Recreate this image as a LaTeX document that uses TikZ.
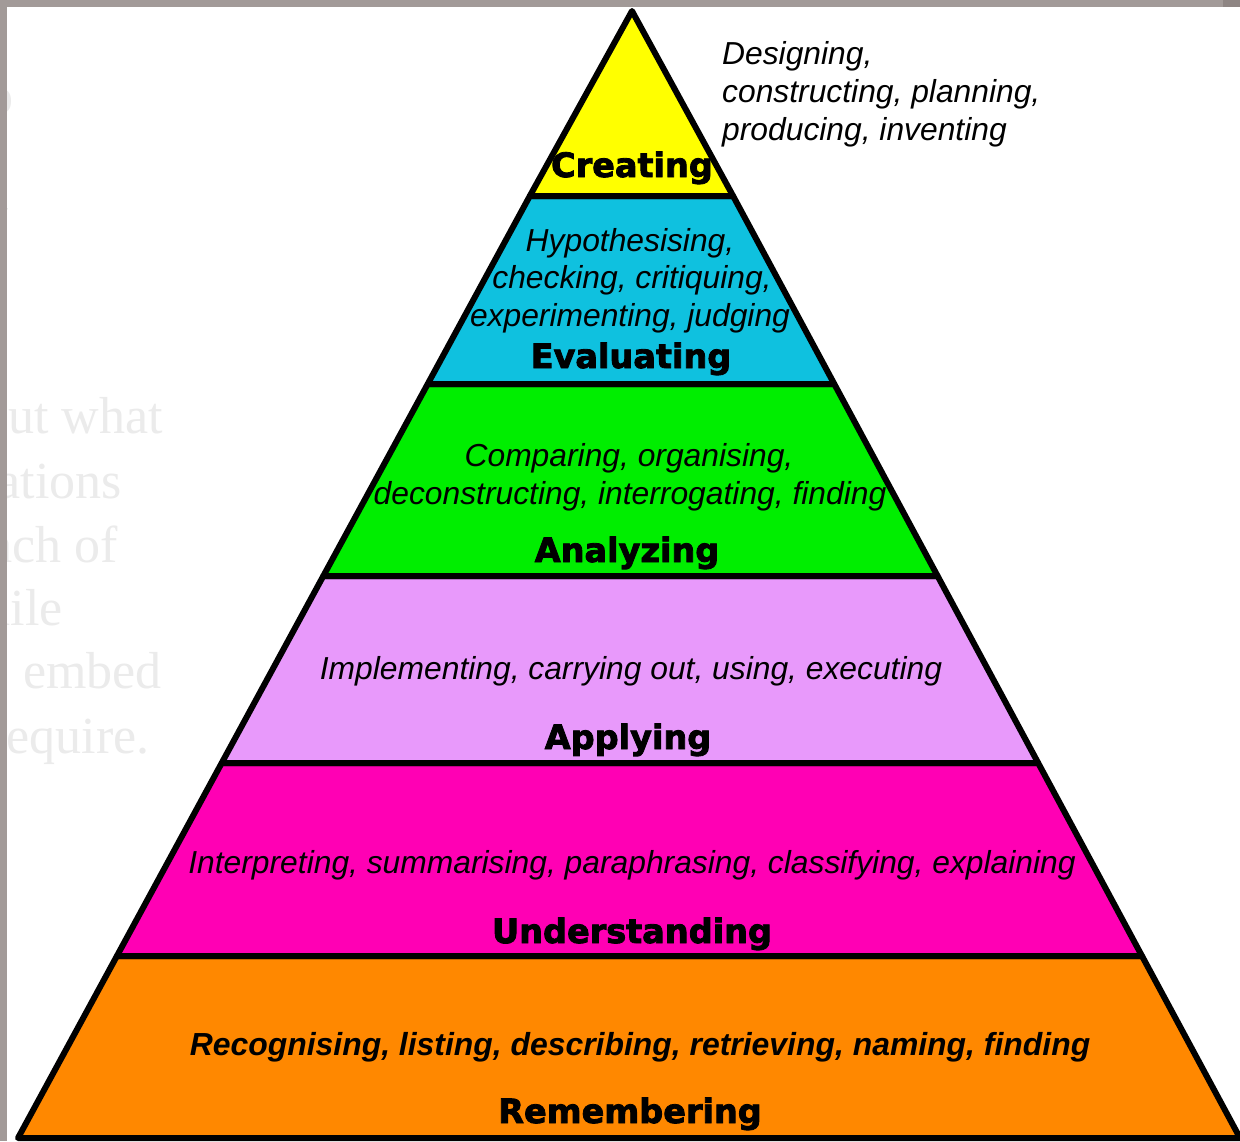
\documentclass[tikz,border=0pt]{standalone}
\usepackage{fontspec}
\setmainfont{Liberation Sans}
\newfontfamily\lblfont[FakeBold=2.5]{DejaVu Sans Bold}
\newfontfamily\bgfont{Liberation Serif}
\definecolor{cYellow}{HTML}{FFFF00}
\definecolor{cCyan}{HTML}{0FC1DF}
\definecolor{cGreen}{HTML}{00EE00}
\definecolor{cLilac}{HTML}{E899FB}
\definecolor{cMagenta}{HTML}{FF00B4}
\definecolor{cOrange}{HTML}{FF8800}
\definecolor{bgGrey}{HTML}{EBEBEB}
\definecolor{stripGrey}{HTML}{A29A98}
\definecolor{stripDark}{HTML}{8E8583}
\begin{document}
\begin{tikzpicture}[x=1pt,y=-1pt,
  band/.style={draw=black,line width=6pt,line join=round},
  desc/.style={font=\itshape\fontsize{31.8}{38}\selectfont,inner sep=0pt,anchor=base},
  descb/.style={font=\bfseries\itshape\fontsize{31.9}{38}\selectfont,inner sep=0pt,anchor=base},
  lbl/.style={font=\lblfont\fontsize{33.5}{40}\selectfont,inner sep=0pt,anchor=base},
  bgtxt/.style={font=\bgfont\fontsize{52}{60}\selectfont,text=bgGrey,inner sep=0pt,anchor=base east}]
\useasboundingbox (0,0) rectangle (1240,1141);
\fill[white] (0,0) rectangle (1240,1141);

% faded background text (cut off at the left)
\node[bgtxt] (bg1) at (14,113) {o};
\node[bgtxt] (bg2) at (9,232) {v};
\node[bgtxt] (bg3) at (9,305) {e};
\node[bgtxt] (bg4) at (163,433) {out what};
\node[bgtxt] (bg5) at (122,498) {ations};
\node[bgtxt] (bg6) at (118,562) {each of};
\node[bgtxt] (bg7) at (63,625) {hile};
\node[bgtxt] (bg8) at (162,688) {embed};
\node[bgtxt] (bg9) at (150,753) {require.};

% pyramid bands
\draw[band,fill=cOrange] (18,1138) -- (116.9,956) -- (1142,956) -- (1240,1138) -- cycle;
\draw[band,fill=cMagenta] (116.9,956) -- (221.7,763) -- (1038.2,763) -- (1142,956) -- cycle;
\draw[band,fill=cLilac] (221.7,763) -- (323.3,576) -- (937.6,576) -- (1038.2,763) -- cycle;
\draw[band,fill=cGreen] (323.3,576) -- (427.7,384) -- (834.3,384) -- (937.6,576) -- cycle;
\draw[band,fill=cCyan] (427.7,384) -- (529.8,196) -- (733.1,196) -- (834.3,384) -- cycle;
\draw[band,fill=cYellow] (529.8,196) -- (632,11) -- (733.1,196) -- cycle;

% Creating
\node[lbl] (creating) at (632,177) {Creating};
\node[desc,anchor=base west] (cr1) at (722,64) {Designing,};
\node[desc,anchor=base west] (cr2) at (722,102) {constructing, planning,};
\node[desc,anchor=base west] (cr3) at (722,140) {producing, inventing};

% Evaluating
\node[desc] (ev1) at (630,251) {Hypothesising,};
\node[desc] (ev2) at (632,288) {checking, critiquing,};
\node[desc] (ev3) at (630,326) {experimenting, judging};
\node[lbl] (evaluating) at (631,368) {Evaluating};

% Analyzing
\node[desc] (an1) at (629,466) {Comparing, organising,};
\node[desc] (an2) at (630,504) {deconstructing, interrogating, finding};
\node[lbl] (analyzing) at (627,562) {Analyzing};

% Applying
\node[desc] (ap1) at (631,679) {Implementing, carrying out, using, executing};
\node[lbl] (applying) at (628,749) {Applying};

% Understanding
\node[desc] (un1) at (632,873) {Interpreting, summarising, paraphrasing, classifying, explaining};
\node[lbl] (understanding) at (632,943) {Understanding};

% Remembering
\node[descb] (re1) at (640,1055) {Recognising, listing, describing, retrieving, naming, finding};
\node[lbl] (remembering) at (630,1123) {Remembering};

% grey frame strips
\fill[stripGrey] (0,0) rectangle (1240,7);
\fill[stripDark] (1223,0) rectangle (1240,7);
\fill[stripGrey] (0,0) rectangle (7,1141);
\end{tikzpicture}
\end{document}
